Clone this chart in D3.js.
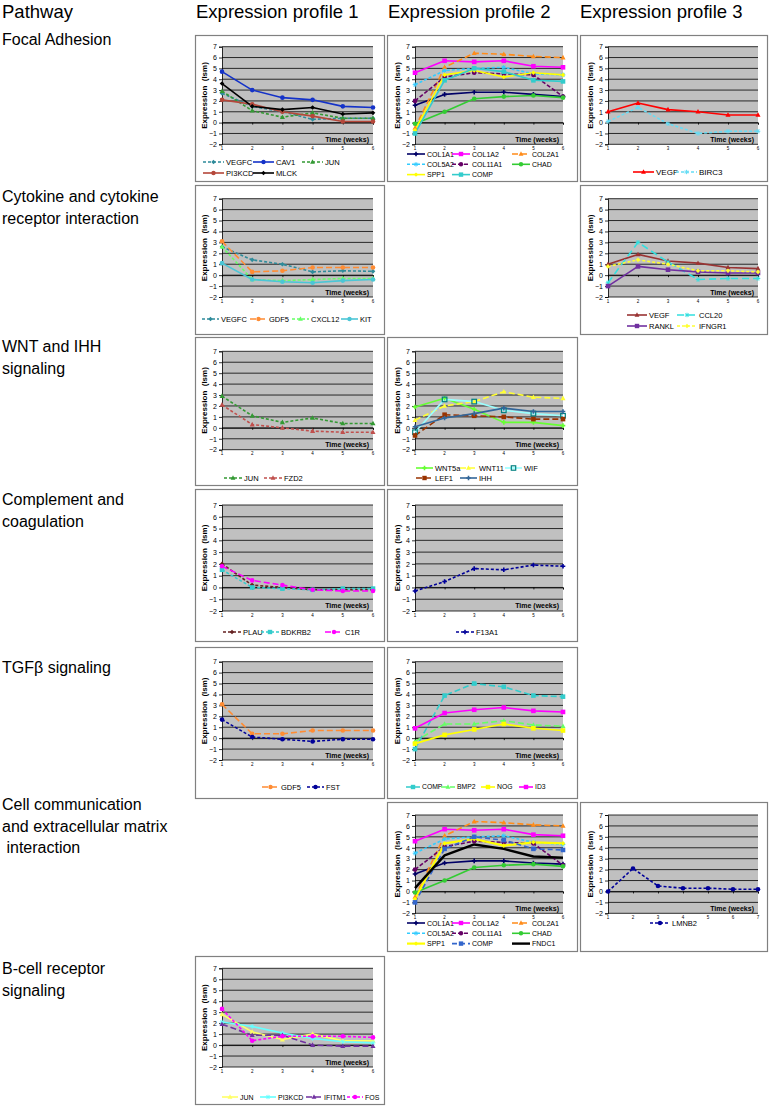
<!DOCTYPE html>
<html><head><meta charset="utf-8">
<script src="https://cdn.jsdelivr.net/npm/d3@7"></script>
<style>body{margin:0;background:#fff}svg{display:block;font-family:Arial,"Liberation Sans",sans-serif}</style>
</head><body><svg id="c" width="775" height="1108"></svg>
<script>
// ---------- labels ----------
const weeks6 = [1,2,3,4,5,6];
const weeks7 = [1,2,3,4,5,6,7];
const yTicks = [-2,-1,0,1,2,3,4,5,6,7];
const headerLabels = ["Pathway","Expression profile 1","Expression profile 2","Expression profile 3"];
const pathwayLabels = [["Focal Adhesion"],["Cytokine and cytokine","receptor interaction"],["WNT and IHH","signaling"],["Complement and","coagulation"],["TGFβ signaling"],["Cell communication","and extracellular matrix"," interaction"],["B-cell receptor","signaling"]];
const yTitle = "Expression  (lsm)";
const xTitle = "Time (weeks)";

// ---------- data ----------
// Focal adhesion, profile 1
const fa1_VEGFC  = [2.7,1.5,1.0,0.3,0.4,0.4];
const fa1_CAV1   = [4.7,3.0,2.3,2.1,1.5,1.4];
const fa1_JUN    = [2.9,1.1,0.5,0.9,0.4,0.4];
const fa1_PI3KCD = [2.1,1.7,1.0,0.6,0.1,0.1];
const fa1_MLCK   = [3.6,1.5,1.2,1.4,0.8,0.9];
// Focal adhesion, profile 2
const fa2_COL1A1  = [1.6,2.6,2.8,2.8,2.6,2.4];
const fa2_COL1A2  = [4.6,5.7,5.6,5.7,5.2,5.1];
const fa2_COL2A1  = [-0.5,5.1,6.4,6.3,6.1,6.0];
const fa2_COL5A2  = [3.5,4.8,5.0,5.1,4.5,4.4];
const fa2_COL11A1 = [2.0,4.2,4.6,4.5,4.4,2.4];
const fa2_CHAD    = [-0.1,1.0,2.2,2.4,2.5,2.3];
const fa2_SPP1    = [-0.7,4.4,4.8,4.2,4.6,4.4];
const fa2_COMP    = [-1.0,3.9,5.0,4.7,3.9,3.8];
// Focal adhesion, profile 3
const fa3_VEGF  = [1.0,1.8,1.2,1.0,0.7,0.7];
const fa3_BIRC3 = [0.1,1.4,-0.1,-1.0,-0.8,-0.8];
// Cytokine, profile 1
const cy1_VEGFC  = [2.6,1.4,1.0,0.3,0.4,0.35];
const cy1_GDF5   = [3.1,0.3,0.4,0.7,0.7,0.7];
const cy1_CXCL12 = [2.6,-0.4,-0.5,-0.4,-0.3,-0.3];
const cy1_KIT    = [1.1,-0.4,-0.6,-0.7,-0.5,-0.4];
// Cytokine, profile 3
const cy3_VEGF   = [1.0,1.9,1.3,1.1,0.7,0.6];
const cy3_CCL20  = [-0.7,3.0,1.2,-0.4,-0.3,-0.3];
const cy3_RANKL  = [-1.0,0.8,0.5,0.3,0.2,0.2];
const cy3_IFNGR1 = [0.8,1.4,1.0,0.4,0.4,0.3];
// WNT and IHH, profile 1
const wn1_JUN  = [2.9,1.1,0.5,0.9,0.4,0.4];
const wn1_FZD2 = [2.1,0.3,0.0,-0.3,-0.4,-0.4];
// WNT and IHH, profile 2
const wn2_WNT5a = [1.9,2.7,1.7,0.5,0.5,0.2];
const wn2_WNT11 = [0.7,2.0,2.4,3.3,2.8,2.7];
const wn2_WIF   = [-0.4,2.6,2.4,1.6,1.3,1.1];
const wn2_LEF1  = [-0.7,1.2,1.1,1.0,0.8,0.8];
const wn2_IHH   = [0.1,0.9,1.3,1.8,1.5,1.5];
// Complement, profile 1
const co1_PLAU   = [2.0,0.2,0.0,-0.2,-0.2,-0.2];
const co1_BDKRB2 = [1.5,0.0,-0.1,-0.2,-0.1,-0.1];
const co1_C1R    = [1.8,0.6,0.2,-0.2,-0.3,-0.3];
// Complement, profile 2
const co2_F13A1 = [-0.3,0.5,1.6,1.5,1.9,1.8];
// TGFb, profile 1
const tg1_GDF5 = [3.1,0.4,0.4,0.7,0.7,0.7];
const tg1_FST  = [1.7,0.1,-0.1,-0.3,-0.1,-0.1];
// TGFb, profile 2
const tg2_COMP = [-1.0,3.9,5.0,4.7,3.9,3.8];
const tg2_BMP2 = [-0.3,1.3,1.3,1.6,1.2,1.1];
const tg2_NOG  = [-0.5,0.3,0.8,1.3,0.9,0.7];
const tg2_ID3  = [0.9,2.3,2.6,2.8,2.5,2.4];
// Cell communication, profile 2
const cc2_COL1A1  = [1.6,2.6,2.8,2.8,2.6,2.5];
const cc2_COL1A2  = [4.6,5.7,5.6,5.7,5.2,5.1];
const cc2_COL2A1  = [-0.5,5.1,6.4,6.3,6.1,6.0];
const cc2_COL5A2  = [3.5,4.8,5.0,5.1,4.5,4.3];
const cc2_COL11A1 = [2.0,4.1,4.6,4.5,4.4,2.4];
const cc2_CHAD    = [-0.1,1.0,2.2,2.4,2.5,2.3];
const cc2_SPP1    = [-0.7,4.4,4.8,4.2,4.5,4.4];
const cc2_COMP    = [-1.0,3.9,5.0,4.7,3.9,3.8];
const cc2_FNDC1   = [0.3,3.3,4.3,3.9,3.2,3.1];
// Cell communication, profile 3
const cc3_LMNB2 = [0.0,2.1,0.5,0.3,0.3,0.2,0.2];
// B-cell receptor, profile 1
const bc1_JUN    = [2.8,1.2,0.5,1.0,0.4,0.4];
const bc1_PI3KCD = [2.1,1.7,1.1,0.6,0.3,0.2];
const bc1_IFITM1 = [1.9,0.9,0.9,0.0,-0.1,-0.1];
const bc1_FOS    = [3.3,0.4,0.8,0.8,0.8,0.7];

// ---------- layout ----------
const rowTop    = [35,185,337,489,647,802,956];
const rowBottom = [181,334,485,641,798,951,1104];
const plotTopY  = [46.7,198.7,351.3,505,661.7,815,968.3];
const plotBotY  = [144.3,297,449.7,611,760,913.3,1067];
const boxX  = [[195,384],[387,577],[580,767]];
const plotX = [[222,373],[415,563],[608,758]];
const labelBaseline = [45,202,352,505,673,810,974];

const S = (name, values, color, dash, mk, w) => ({name, values, color, dash, mk, w: w || 1.6});
const panels = [
 {row:0,col:0,x:weeks6,series:[
   S("VEGFC",fa1_VEGFC,"#2E8B9A","3,2","diamond"),
   S("CAV1",fa1_CAV1,"#1432C8",null,"circle"),
   S("JUN",fa1_JUN,"#339933","3,2","triangle"),
   S("PI3KCD",fa1_PI3KCD,"#B5473A",null,"circle"),
   S("MLCK",fa1_MLCK,"#000000",null,"diamond")],
  leg:{cols:[203,253,302],rows:[162,173],sample:21,font:7.6}},
 {row:0,col:1,x:weeks6,series:[
   S("COL1A1",fa2_COL1A1,"#000066",null,"plus"),
   S("COL1A2",fa2_COL1A2,"#FF00FF",null,"square"),
   S("COL2A1",fa2_COL2A1,"#FF8C1A","6,3","triangle"),
   S("COL5A2",fa2_COL5A2,"#33CCFF","3,2","star"),
   S("COL11A1",fa2_COL11A1,"#660066","4,2","circle"),
   S("CHAD",fa2_CHAD,"#33CC33",null,"circle"),
   S("SPP1",fa2_SPP1,"#FFFF00",null,"diamond"),
   S("COMP",fa2_COMP,"#33CCCC",null,"square")],
  leg:{cols:[407,452,512],rows:[154,164.3,174.6],sample:18,font:7}},
 {row:0,col:2,x:weeks6,series:[
   S("VEGF",fa3_VEGF,"#FF0000",null,"triangle"),
   S("BIRC3",fa3_BIRC3,"#66DDF5","3,2","star")],
  leg:{cols:[633,676],rows:[172],sample:21,font:8}},
 {row:1,col:0,x:weeks6,series:[
   S("VEGFC",cy1_VEGFC,"#2E8B9A","3,2","diamond"),
   S("GDF5",cy1_GDF5,"#FF8C33","6,3","circle"),
   S("CXCL12",cy1_CXCL12,"#66FF66","3,2","triangle"),
   S("KIT",cy1_KIT,"#4BC6D6",null,"circle")],
  leg:{cols:[202,250,292,341],rows:[319],sample:17,font:7.5}},
 {row:1,col:2,x:weeks6,series:[
   S("VEGF",cy3_VEGF,"#993333",null,"triangle"),
   S("CCL20",cy3_CCL20,"#33E0E0","7,4","star"),
   S("RANKL",cy3_RANKL,"#7030A0",null,"square"),
   S("IFNGR1",cy3_IFNGR1,"#FFFF33","3,2","diamond")],
  leg:{cols:[627,677],rows:[315,326],sample:20,font:7.5}},
 {row:2,col:0,x:weeks6,series:[
   S("JUN",wn1_JUN,"#339933","3,2","triangle"),
   S("FZD2",wn1_FZD2,"#C0504D","3,2","triangle")],
  leg:{cols:[224,264],rows:[478],sample:18,font:7.5}},
 {row:2,col:1,x:weeks6,series:[
   S("WNT5a",wn2_WNT5a,"#66FF33",null,"plus"),
   S("WNT11",wn2_WNT11,"#FFFF33","6,3","triangle"),
   S("WIF",wn2_WIF,"#99FFFF",null,"opensquare"),
   S("LEF1",wn2_LEF1,"#993300","6,3","square"),
   S("IHH",wn2_IHH,"#336699",null,"plus")],
  leg:{cols:[416,460,505],rows:[468,478],sample:17,font:7.5}},
 {row:3,col:0,x:weeks6,series:[
   S("PLAU",co1_PLAU,"#662222","3,2","diamond"),
   S("BDKRB2",co1_BDKRB2,"#33CCCC","3,2","square"),
   S("C1R",co1_C1R,"#FF00FF","6,3","circle")],
  leg:{cols:[223,261,325],rows:[632],sample:18,font:7.5}},
 {row:3,col:1,x:weeks6,series:[
   S("F13A1",co2_F13A1,"#000099","3,2","plus")],
  leg:{cols:[456],rows:[632],sample:18,font:7.5}},
 {row:4,col:0,x:weeks6,series:[
   S("GDF5",tg1_GDF5,"#FF8C33","6,3","circle"),
   S("FST",tg1_FST,"#000099","3,2","circle")],
  leg:{cols:[262,307],rows:[787],sample:17,font:7.5}},
 {row:4,col:1,x:weeks6,series:[
   S("COMP",tg2_COMP,"#33CCCC","6,3","square"),
   S("BMP2",tg2_BMP2,"#66FF66","6,3","triangle"),
   S("NOG",tg2_NOG,"#FFFF00",null,"square"),
   S("ID3",tg2_ID3,"#FF00FF",null,"square")],
  leg:{cols:[406,441,481,519],rows:[787],sample:14,font:6.8}},
 {row:5,col:1,x:weeks6,series:[
   S("COL1A1",cc2_COL1A1,"#000066",null,"plus"),
   S("COL1A2",cc2_COL1A2,"#FF00FF",null,"square"),
   S("COL2A1",cc2_COL2A1,"#FF8C1A","6,3","triangle"),
   S("COL5A2",cc2_COL5A2,"#33CCFF","3,2","star"),
   S("COL11A1",cc2_COL11A1,"#660066","4,2","circle"),
   S("CHAD",cc2_CHAD,"#33CC33",null,"circle"),
   S("SPP1",cc2_SPP1,"#FFFF00",null,"diamond",2.2),
   S("COMP",cc2_COMP,"#3366CC","5,3","square"),
   S("FNDC1",cc2_FNDC1,"#000000",null,"none",2.4)],
  leg:{cols:[407,452,512],rows:[923,933.3,943.6],sample:18,font:7}},
 {row:5,col:2,x:weeks7,series:[
   S("LMNB2",cc3_LMNB2,"#000099","3,2","circle")],
  leg:{cols:[650],rows:[923],sample:20,font:7.5}},
 {row:6,col:0,x:weeks6,series:[
   S("JUN",bc1_JUN,"#FFFF66",null,"triangle"),
   S("PI3KCD",bc1_PI3KCD,"#66FFFF",null,"star"),
   S("IFITM1",bc1_IFITM1,"#7030A0","6,3","triangle"),
   S("FOS",bc1_FOS,"#FF00FF","3,2","circle")],
  leg:{cols:[222,260,306,347],rows:[1097],sample:16,font:7}}
];

const svg = d3.select("#c");

// headers
const hx = [2,196,388,580];
headerLabels.forEach((t,i)=>svg.append("text").attr("x",hx[i]).attr("y",18).attr("font-size",18.5).attr("fill","#000").text(t));
// pathway labels
pathwayLabels.forEach((lines,r)=>lines.forEach((t,j)=>
  svg.append("text").attr("x",2).attr("y",labelBaseline[r]+j*21.5).attr("font-size",16).style("white-space","pre").attr("fill","#000").text(t)));

function marker(g,type,x,y,c,s){
  if(type==="none") return;
  if(type==="circle") g.append("circle").attr("cx",x).attr("cy",y).attr("r",s).attr("fill",c);
  else if(type==="square") g.append("rect").attr("x",x-s).attr("y",y-s).attr("width",2*s).attr("height",2*s).attr("fill",c);
  else if(type==="opensquare") g.append("rect").attr("x",x-s).attr("y",y-s).attr("width",2*s).attr("height",2*s).attr("fill","none").attr("stroke","#008080").attr("stroke-width",1.2);
  else if(type==="triangle") g.append("path").attr("d",`M${x},${y-s*1.2}L${x+s*1.1},${y+s*0.8}L${x-s*1.1},${y+s*0.8}Z`).attr("fill",c);
  else if(type==="diamond") g.append("path").attr("d",`M${x},${y-s}L${x+s},${y}L${x},${y+s}L${x-s},${y}Z`).attr("fill",c);
  else if(type==="plus") g.append("path").attr("d",`M${x-s},${y}H${x+s}M${x},${y-s}V${y+s}`).attr("stroke",c).attr("stroke-width",1.6);
  else if(type==="star") g.append("path").attr("d",`M${x-s},${y}H${x+s}M${x},${y-s}V${y+s}M${x-s*0.7},${y-s*0.7}L${x+s*0.7},${y+s*0.7}M${x-s*0.7},${y+s*0.7}L${x+s*0.7},${y-s*0.7}`).attr("stroke",c).attr("stroke-width",1);
}

panels.forEach(p=>{
  const g = svg.append("g");
  const bx = boxX[p.col], px = plotX[p.col];
  const top = rowTop[p.row], bot = rowBottom[p.row];
  const pt = plotTopY[p.row], pb = plotBotY[p.row];
  g.append("rect").attr("x",bx[0]+0.5).attr("y",top+0.5).attr("width",bx[1]-bx[0]).attr("height",bot-top)
    .attr("fill","#fff").attr("stroke","#808080").attr("stroke-width",1.2);
  const xs = d3.scalePoint().domain(p.x).range(px).padding(0);
  const ys = d3.scaleLinear().domain([-2,7]).range([pb,pt]);
  g.append("rect").attr("x",px[0]).attr("y",pt).attr("width",px[1]-px[0]).attr("height",pb-pt).attr("fill","#C0C0C0");
  // gridlines
  g.selectAll(".gl").data(yTicks).join("line").attr("x1",px[0]).attr("x2",px[1])
    .attr("y1",d=>ys(d)).attr("y2",d=>ys(d)).attr("stroke","#000").attr("stroke-width",0.8);
  // y axis
  const ya = d3.axisLeft(ys).tickValues(yTicks).tickSize(3).tickPadding(2).tickFormat(d3.format("d"));
  const yg = g.append("g").attr("transform",`translate(${px[0]},0)`).call(ya);
  yg.selectAll("text").attr("font-size",7).attr("fill","#000").attr("font-family","Arial,Liberation Sans,sans-serif");
  yg.selectAll("line,path").attr("stroke","#000").attr("stroke-width",0.8);
  // x ticks on zero line
  const xa = d3.axisBottom(xs).tickSize(2).tickFormat("");
  const xg = g.append("g").attr("transform",`translate(0,${ys(0)})`).call(xa);
  xg.selectAll("line,path").attr("stroke","#000").attr("stroke-width",0.8);
  // x tick labels under plot
  g.selectAll(".xl").data(p.x).join("text").attr("x",d=>xs(d)).attr("y",pb+5.5).attr("text-anchor","middle")
    .attr("font-size",4.5).attr("fill","#000").text(d=>d);
  // axis titles
  g.append("text").attr("x",px[1]-4).attr("y",ys(-1.55)+2.5).attr("text-anchor","end").attr("font-size",7)
    .attr("font-weight","bold").attr("fill","#000").text(xTitle);
  g.append("text").attr("transform",`translate(${px[0]-15},${(pt+pb)/2}) rotate(-90)`).attr("text-anchor","middle")
    .attr("font-size",8).attr("font-weight","bold").attr("fill","#000").style("white-space","pre").text(yTitle);
  // series
  const line = d3.line().x((d,i)=>xs(p.x[i])).y(d=>ys(d));
  p.series.forEach(s=>{
    g.append("path").attr("d",line(s.values)).attr("fill","none").attr("stroke",s.color)
      .attr("stroke-width",s.w).attr("stroke-dasharray",s.dash).attr("stroke-linejoin","round");
  });
  p.series.forEach(s=>{
    s.values.forEach((v,i)=>marker(g,s.mk,xs(p.x[i]),ys(v),s.color,2.3));
  });
  // legend
  const L = p.leg, nc = L.cols.length;
  p.series.forEach((s,i)=>{
    const cx = L.cols[i%nc], cy = L.rows[Math.floor(i/nc)];
    g.append("line").attr("x1",cx).attr("x2",cx+L.sample).attr("y1",cy).attr("y2",cy)
      .attr("stroke",s.color).attr("stroke-width",s.w).attr("stroke-dasharray",s.dash);
    marker(g,s.mk,cx+L.sample/2,cy,s.color,2.2);
    g.append("text").attr("x",cx+L.sample+2).attr("y",cy+L.font*0.36).attr("font-size",L.font).attr("fill","#000").text(s.name);
  });
});
</script></body></html>
